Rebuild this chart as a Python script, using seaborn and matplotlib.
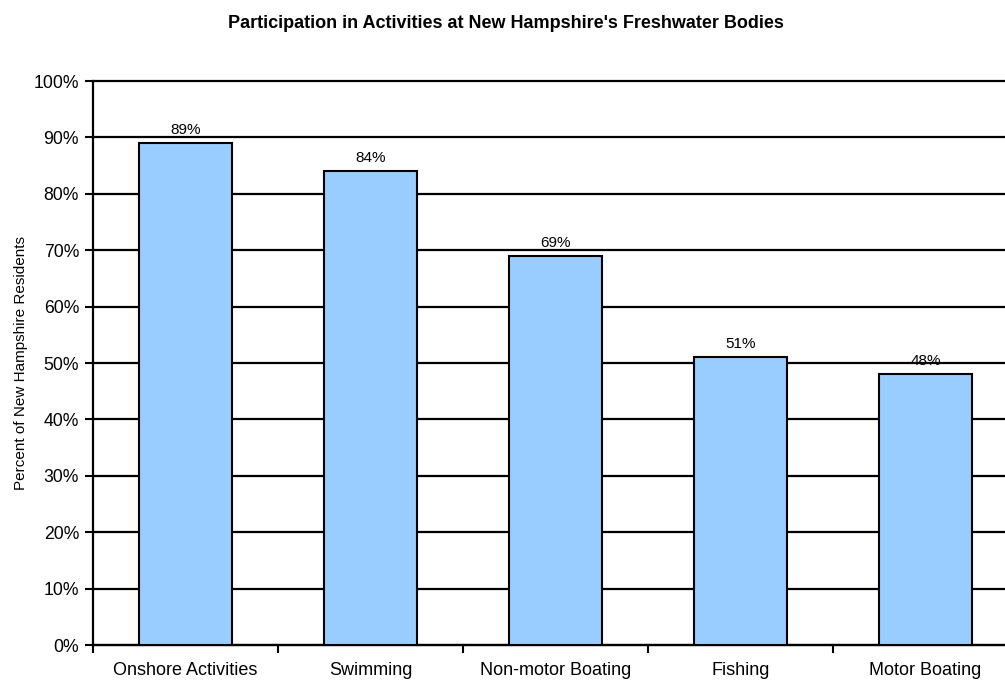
import matplotlib
matplotlib.use("Agg")
import matplotlib.pyplot as plt
import seaborn as sns
import numpy as np
import pandas as pd
from matplotlib.ticker import FixedLocator, PercentFormatter

categories = ["Onshore Activities", "Swimming", "Non-motor Boating", "Fishing", "Motor Boating"]
values = [89, 84, 69, 51, 48]
bar_labels = ["89%", "84%", "69%", "51%", "48%"]
title = "Participation in Activities at New Hampshire's Freshwater Bodies"
ylabel = "Percent of New Hampshire Residents"

sns.set_style("white")
plt.rcParams['font.family'] = ['Liberation Sans', 'DejaVu Sans']
plt.rcParams['text.color'] = 'black'
plt.rcParams['xtick.color'] = 'black'
plt.rcParams['ytick.color'] = 'black'
plt.rcParams['axes.labelcolor'] = 'black'

fig = plt.figure(figsize=(10.05, 6.81), dpi=100)
ax = fig.add_axes([93/1005, 36/681, (1018-93)/1005, (645-81)/681])

df = pd.DataFrame({"cat": categories, "val": values})
sns.barplot(data=df, x="cat", y="val", color="#99CCFF", edgecolor="black",
            linewidth=1.5, width=0.5, saturation=1, ax=ax, zorder=3)

ax.set_ylim(0, 100)
ax.set_xlim(-0.5, len(categories) - 0.5)
ax.set_yticks(np.arange(0, 101, 10))
ax.yaxis.set_major_formatter(PercentFormatter(decimals=0))
ax.yaxis.grid(True, color="black", linewidth=1.6, zorder=0)
for gl in ax.get_ygridlines():
    gl.set_clip_on(False)
ax.set_axisbelow(True)

ax.xaxis.set_minor_locator(FixedLocator(np.arange(-0.5, len(categories), 1)))
ax.tick_params(axis="x", which="both", bottom=True)
ax.tick_params(axis="x", which="major", length=0, pad=12.5, labelsize=13, labelcolor="black")
ax.tick_params(axis="x", which="minor", length=6, width=1.5, color="black", direction="out")
ax.tick_params(axis="y", which="major", left=True, length=6, width=1.5, color="black",
               labelsize=12.7, pad=4, direction="out", labelcolor="black")

for s in ["top", "right"]:
    ax.spines[s].set_visible(False)
for s in ["left", "bottom"]:
    ax.spines[s].set_color("black")
    ax.spines[s].set_linewidth(1.6)

for i, (v, lab) in enumerate(zip(values, bar_labels)):
    ax.text(i, v + 1.1, lab, ha="center", va="bottom", fontsize=11, color="black", zorder=4)

ax.set_xlabel("")
ax.set_ylabel(ylabel, fontsize=11, labelpad=4, color="black")
fig.text(506/1005, 1 - 23/681, title, ha="center", va="center", fontsize=13,
         fontweight="bold", color="black")

fig.savefig("out.png", dpi=100)
